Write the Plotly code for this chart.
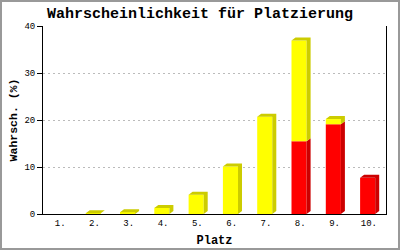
import plotly.graph_objects as go

categories = ["1.", "2.", "3.", "4.", "5.", "6.", "7.", "8.", "9.", "10."]
red_values = [0, 0, 0, 0, 0, 0, 0, 15.5, 19.1, 7.7]
yellow_values = [0, 0.15, 0.35, 1.3, 4.1, 10.1, 20.7, 21.4, 1.1, 0]
y_ticks = [0, 10, 20, 30, 40]

W, H = 400, 250
ML, MR, MT, MB = 43, 14, 26, 36
PW, PH = W - ML - MR, H - MT - MB
YMAX = 40

# bar geometry in data units
LEFT = -0.255
BW = 0.44
DX = 4 / (PW / len(categories))
DY = 3 / (PH / YMAX)

RED, RED_D = "#FF0000", "#CC0000"
YEL, YEL_D = "#FFFF00", "#CCCC00"

xs = list(range(len(categories)))
fig = go.Figure()

def front(vals, bases, color):
    fig.add_trace(go.Bar(
        x=xs, y=vals, base=bases, width=BW, offset=LEFT,
        marker=dict(color=color, line=dict(width=0)),
        hoverinfo="skip", showlegend=False))

def faces(vals, bases, has_above, color):
    px, py = [], []
    for i, (v, b) in enumerate(zip(vals, bases)):
        if v <= 0:
            continue
        t = b + v
        L = i + LEFT
        R = L + BW
        # side face
        px += [R, R + DX, R + DX, R, R, None]
        py += [b, b + DY, t + DY, t, b, None]
        if not has_above[i]:
            px += [L, L + DX, R + DX, R, L, None]
            py += [t, t + DY, t + DY, t, t, None]
    fig.add_trace(go.Scatter(
        x=px, y=py, mode="lines", fill="toself", fillcolor=color,
        line=dict(width=0, color=color), hoverinfo="skip", showlegend=False))

zeros = [0] * len(categories)
front(red_values, zeros, RED)
front(yellow_values, red_values, YEL)
faces(red_values, zeros, [y > 0 for y in yellow_values], RED_D)
faces(yellow_values, red_values, [False] * len(categories), YEL_D)

mono = "Liberation Mono, DejaVu Sans Mono, monospace"
fig.update_layout(
    width=W, height=H,
    margin=dict(l=ML, r=MR, t=MT, b=MB, autoexpand=False),
    paper_bgcolor="white", plot_bgcolor="white",
    barmode="overlay",
    title=dict(text="<b>Wahrscheinlichkeit für Platzierung</b>",
               x=0.5, xanchor="center", y=1 - 13 / H, yanchor="middle",
               font=dict(family=mono, size=15, color="black")),
    xaxis=dict(range=[-0.5, len(categories) - 0.5], automargin=False,
               tickvals=xs, ticktext=categories, ticks="",
               showgrid=False, zeroline=False,
               showline=True, linecolor="black", linewidth=1,
               tickfont=dict(family=mono, size=9, color="black"),
               title=dict(text="<b>Platz</b>", standoff=7,
                          font=dict(family=mono, size=12, color="black"))),
    yaxis=dict(range=[0, YMAX], tickvals=y_ticks, automargin=False,
               ticks="outside", ticklen=5, tickcolor="black",
               showgrid=True, gridcolor="#BBBBBB", griddash="2px,3px", gridwidth=1,
               zeroline=False, showline=True, linecolor="black", linewidth=1,
               mirror=True,
               tickfont=dict(family=mono, size=9, color="black"),
               title=dict(text="<b>Wahrsch. (%)</b>", standoff=4,
                          font=dict(family=mono, size=11.5, color="black"))),
    shapes=[dict(type="rect", xref="paper", yref="paper",
                 x0=(1 - ML) / PW, x1=(W - 1 - ML) / PW,
                 y0=-(MB - 1) / PH,
                 y1=(H - MB - 1) / PH,
                 line=dict(color="#999999", width=2), layer="above")],
)

fig.write_html("out.html")
